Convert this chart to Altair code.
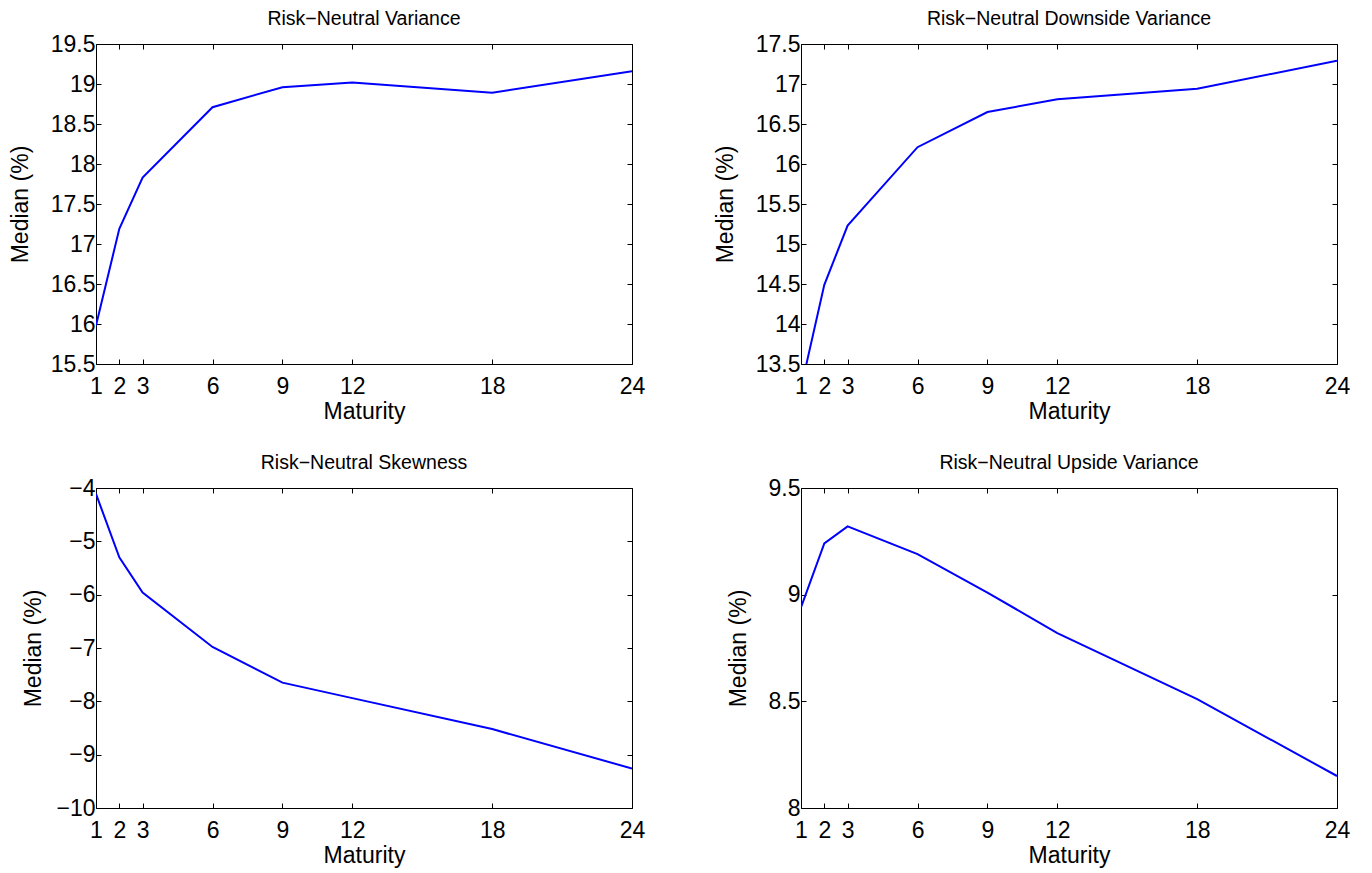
import altair as alt
import pandas as pd

maturity = [1, 2, 3, 6, 9, 12, 18, 24]
rn_variance = [15.98, 17.19, 17.83, 18.71, 18.96, 19.02, 18.89, 19.16]
rn_downside = [13.2, 14.49, 15.23, 16.21, 16.65, 16.81, 16.94, 17.29]
rn_skewness = [-4.11, -5.30, -5.96, -6.98, -7.65, -7.94, -8.52, -9.26]
rn_upside = [8.94, 9.24, 9.32, 9.19, 9.01, 8.82, 8.51, 8.15]

titles = ["Risk\u2212Neutral Variance", "Risk\u2212Neutral Downside Variance",
          "Risk\u2212Neutral Skewness", "Risk\u2212Neutral Upside Variance"]
y_domains = [[15.5, 19.5], [13.5, 17.5], [-10, -4], [8, 9.5]]
y_ticks = [
    [15.5, 16, 16.5, 17, 17.5, 18, 18.5, 19, 19.5],
    [13.5, 14, 14.5, 15, 15.5, 16, 16.5, 17, 17.5],
    [-10, -9, -8, -7, -6, -5, -4],
    [8, 8.5, 9, 9.5],
]
x_ticks = [1, 2, 3, 6, 9, 12, 18, 24]
y_title_pad = [18, 18, 10, 18]

FONT = "Liberation Sans"
W, H = 536, 320
TICK = 5


def panel(values, title, ydom, yt, tpad):
    df = pd.DataFrame({"Maturity": maturity, "Median": values})
    xs = alt.Scale(domain=[1, 24], nice=False, zero=False)
    ys = alt.Scale(domain=ydom, nice=False, zero=False)
    main = alt.Chart(df).mark_line(color="#0000ff", strokeWidth=2, clip=True).encode(
        x=alt.X("Maturity:Q", scale=xs,
                axis=alt.Axis(orient="bottom", values=x_ticks, format="d", title="Maturity",
                              offset=-TICK, tickSize=TICK, labelPadding=11, labelFlush=False,
                              labelOverlap=False, titlePadding=2)),
        y=alt.Y("Median:Q", scale=ys,
                axis=alt.Axis(orient="left", values=yt, format=".1~f", title="Median (%)",
                              offset=-TICK, tickSize=TICK, labelPadding=1, labelOverlap=False,
                              titlePadding=tpad)),
    )
    other = alt.Chart(df).mark_line(strokeOpacity=0, clip=True).encode(
        x=alt.X("Maturity:Q", scale=xs,
                axis=alt.Axis(orient="top", values=x_ticks, labels=False, title=None,
                              offset=-TICK, tickSize=TICK)),
        y=alt.Y("Median:Q", scale=ys,
                axis=alt.Axis(orient="right", values=yt, labels=False, title=None,
                              offset=-TICK, tickSize=TICK)),
    )
    return alt.layer(main, other).resolve_axis(x="independent", y="independent").properties(
        width=W, height=H,
        title=alt.TitleParams(title, fontSize=19.5, font=FONT, fontWeight="normal",
                              color="black", offset=4),
    )


vals = [rn_variance, rn_downside, rn_skewness, rn_upside]
panels = [panel(v, t, d, yt, p)
          for v, t, d, yt, p in zip(vals, titles, y_domains, y_ticks, y_title_pad)]

chart = alt.concat(*panels, columns=2, spacing={"row": 28, "column": 67}).properties(
    background="white",
    padding={"left": 0, "top": 0, "right": 0, "bottom": 0},
).configure_view(
    stroke="black", strokeWidth=1
).configure_axis(
    domain=False, grid=False, tickColor="black", tickWidth=1,
    labelFont=FONT, labelFontSize=23, labelColor="black",
    titleFont=FONT, titleFontSize=23, titleFontWeight="normal", titleColor="black",
)

chart.save("out.html", embed_options={"renderer": "svg", "actions": False})
